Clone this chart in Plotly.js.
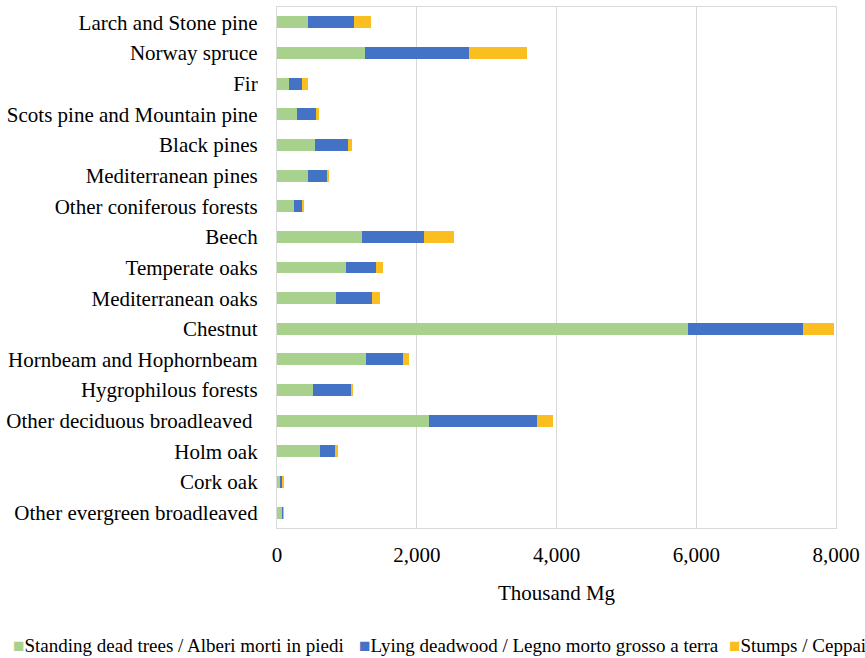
<!DOCTYPE html>
<html>
<head>
<meta charset="utf-8">
<script src="https://cdn.plot.ly/plotly-3.0.1.min.js"></script>
<style>html,body{margin:0;padding:0;background:#fff;overflow:hidden;}</style>
</head>
<body>
<div id="chart" style="width:865px;height:658px;"></div>
<script>
const categories = [
  "Larch and Stone pine", "Norway spruce", "Fir", "Scots pine and Mountain pine",
  "Black pines", "Mediterranean pines", "Other coniferous forests", "Beech",
  "Temperate oaks", "Mediterranean oaks", "Chestnut", "Hornbeam and Hophornbeam",
  "Hygrophilous forests", "Other deciduous broadleaved ", "Holm oak", "Cork oak",
  "Other evergreen broadleaved"
];
const standingDead = [443, 1259, 172, 286, 544, 443, 239, 1211, 987, 849, 5880, 1269, 515, 2179, 615, 43, 72];
const lyingDeadwood = [659, 1488, 190, 272, 472, 277, 123, 892, 429, 515, 1650, 529, 548, 1541, 215, 29, 14];
const stumps = [247, 834, 77, 47, 57, 19, 29, 429, 100, 109, 439, 90, 29, 228, 47, 14, 8];
const seriesNames = [
  "Standing dead trees / Alberi morti in piedi",
  "Lying deadwood / Legno morto grosso a terra",
  "Stumps / Ceppai"
];
const tickValues = [0, 2000, 4000, 6000, 8000];
const tickLabels = ["0", "2,000", "4,000", "6,000", "8,000"];

const colors = ["#A9D18E", "#4472C4", "#FBBE21"];
const seriesData = [standingDead, lyingDeadwood, stumps];

const traces = seriesData.map((vals, i) => ({
  type: "bar",
  orientation: "h",
  name: seriesNames[i],
  y: categories,
  x: vals,
  marker: { color: colors[i], line: { width: 0 } },
  hoverinfo: "x+y+name"
}));

// plot area geometry (pixels) used only for placing the legend entries
const M = { l: 277, r: 29, t: 7, b: 130 };
const W = 865, H = 658;
const pw = W - M.l - M.r, ph = H - M.t - M.b;
const legendPx = [11, 357, 727];   // left edge of each legend entry
const legendY = 645;

const font = "Liberation Serif";
const legendAnnotations = seriesNames.map((name, i) => ({
  xref: "paper", yref: "paper",
  x: (legendPx[i] - M.l) / pw,
  y: (H - M.b - legendY) / ph,
  xanchor: "left", yanchor: "middle",
  showarrow: false,
  align: "left",
  text: "<span style='color:" + colors[i] + "'>\u25A0</span>" + name,
  font: { family: font, size: 19, color: "#000" }
}));

const layout = {
  width: W,
  height: H,
  barmode: "stack",
  bargap: 0.61,
  paper_bgcolor: "#ffffff",
  plot_bgcolor: "#ffffff",
  font: { family: font, size: 21, color: "#000000" },
  margin: { l: M.l, r: M.r, t: M.t, b: M.b, pad: 0, autoexpand: false },
  xaxis: {
    range: [0, 8000],
    tickvals: tickValues,
    ticktext: tickLabels,
    ticks: "",
    automargin: false,
    ticklabelstandoff: 8,
    showgrid: true,
    gridcolor: "#d9d9d9",
    gridwidth: 1.3,
    zeroline: false,
    showline: true,
    linecolor: "#d9d9d9",
    linewidth: 1.3,
    mirror: true,
    tickfont: { family: font, size: 21, color: "#000" },
    title: { text: "Thousand Mg", font: { family: font, size: 21, color: "#000" }, standoff: 18 }
  },
  yaxis: {
    type: "category",
    autorange: "reversed",
    categoryorder: "array",
    categoryarray: categories,
    ticks: "",
    automargin: false,
    ticklabelstandoff: 14,
    showgrid: false,
    zeroline: false,
    showline: true,
    linecolor: "#d9d9d9",
    linewidth: 1.3,
    mirror: true,
    tickfont: { family: font, size: 21, color: "#000" }
  },
  showlegend: false,
  annotations: legendAnnotations
};

Plotly.newPlot("chart", traces, layout, { displayModeBar: false, responsive: false });
</script>
</body>
</html>
